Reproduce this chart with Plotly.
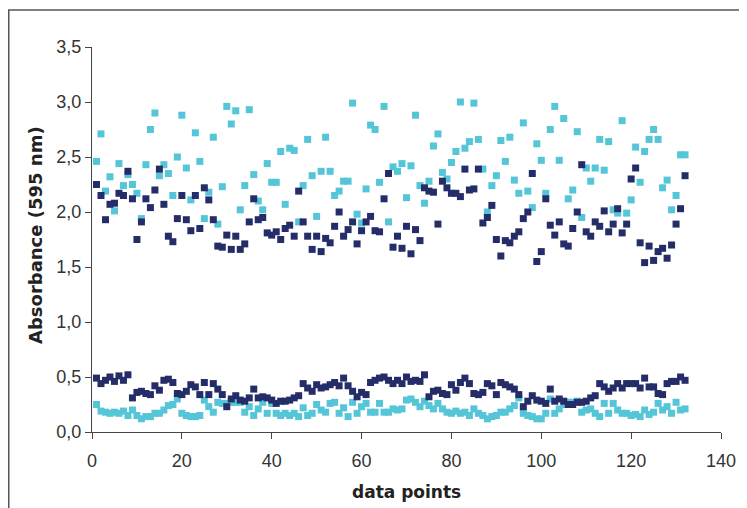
import plotly.graph_objects as go

x_points = list(range(1, 133))

upper_dark = [2.25, 2.15, 1.93, 2.07, 2.08, 2.17, 2.15, 2.37, 2.12, 1.75,
              1.91, 2.12, 2.04, 2.20, 2.39, 2.07, 1.78, 1.73, 1.94, 2.15,
              1.93, 1.83, 2.15, 1.85, 2.22, 2.11, 1.93, 1.69, 1.68, 1.79,
              1.66, 1.78, 1.66, 1.71, 1.91, 2.12, 1.93, 1.95, 1.81, 1.79,
              1.82, 1.75, 1.85, 1.88, 1.78, 2.19, 1.91, 1.78, 1.66, 1.78,
              1.64, 1.76, 1.72, 1.87, 2.00, 1.78, 1.84, 1.91, 1.71, 1.83,
              1.91, 1.96, 1.83, 1.82, 2.12, 2.35, 1.68, 1.78, 1.67, 1.87,
              1.62, 1.84, 1.74, 2.22, 2.19, 2.18, 1.89, 2.28, 2.22, 2.17,
              2.17, 2.14, 2.39, 2.20, 2.21, 2.39, 1.90, 1.95, 2.06, 1.75,
              1.60, 1.74, 1.72, 1.78, 1.82, 1.94, 2.00, 2.35, 1.55, 1.64,
              2.12, 1.88, 1.79, 1.91, 1.71, 1.69, 1.85, 2.00, 2.43, 1.82,
              1.78, 1.91, 1.87, 2.01, 1.82, 1.89, 2.03, 1.81, 1.89, 2.30,
              2.40, 1.72, 1.54, 1.69, 1.56, 1.64, 1.67, 1.58, 1.70, 1.89,
              2.03, 2.33]

upper_cyan = [2.46, 2.71, 2.19, 2.32, 2.01, 2.44, 2.24, 2.34, 2.25, 2.17,
              1.94, 2.43, 2.75, 2.90, 2.33, 2.43, 2.35, 2.15, 2.50, 2.88,
              2.40, 2.11, 2.72, 2.46, 1.94, 2.18, 2.68, 1.89, 2.23, 2.96,
              2.80, 2.92, 2.02, 2.24, 2.93, 2.34, 2.10, 2.02, 2.44, 2.27,
              2.27, 2.55, 2.07, 2.58, 2.56, 1.91, 2.24, 2.66, 2.33, 1.96,
              2.37, 2.68, 2.37, 2.15, 2.19, 2.28, 2.28, 2.99, 1.98, 1.90,
              2.21, 2.79, 2.75, 2.27, 2.96, 1.91, 2.41, 2.37, 2.44, 2.13,
              2.42, 2.88, 2.24, 2.08, 2.28, 2.60, 2.71, 2.36, 2.30, 2.45,
              2.55, 3.00, 2.58, 2.64, 2.99, 2.66, 2.39, 2.00, 2.24, 2.33,
              2.65, 2.46, 2.68, 2.29, 2.17, 2.81, 2.19, 2.04, 2.62, 2.47,
              2.17, 2.75, 2.96, 2.47, 2.85, 2.12, 2.20, 2.73, 1.95, 2.40,
              2.28, 2.40, 2.66, 2.38, 2.64, 2.02, 1.99, 2.83, 1.99, 2.11,
              2.59, 2.27, 2.55, 2.66, 2.75, 2.66, 2.22, 2.29, 2.02, 2.15,
              2.52, 2.52]

lower_dark = [0.49, 0.44, 0.47, 0.50, 0.46, 0.51, 0.47, 0.52, 0.31, 0.36,
              0.37, 0.35, 0.34, 0.42, 0.38, 0.47, 0.48, 0.45, 0.35, 0.34,
              0.37, 0.43, 0.41, 0.34, 0.45, 0.34, 0.44, 0.39, 0.34, 0.23,
              0.30, 0.33, 0.29, 0.28, 0.31, 0.39, 0.31, 0.32, 0.31, 0.29,
              0.26, 0.28, 0.28, 0.29, 0.31, 0.33, 0.44, 0.40, 0.37, 0.43,
              0.40, 0.41, 0.43, 0.45, 0.42, 0.49, 0.42, 0.37, 0.32, 0.36,
              0.34, 0.45, 0.47, 0.49, 0.50, 0.47, 0.44, 0.47, 0.44, 0.50,
              0.46, 0.47, 0.46, 0.52, 0.32, 0.37, 0.38, 0.35, 0.34, 0.43,
              0.38, 0.45, 0.49, 0.44, 0.35, 0.34, 0.36, 0.44, 0.42, 0.34,
              0.45, 0.43, 0.41, 0.39, 0.34, 0.23, 0.28, 0.33, 0.29, 0.28,
              0.26, 0.39, 0.28, 0.30, 0.28, 0.25, 0.25, 0.27, 0.27, 0.28,
              0.31, 0.33, 0.44, 0.41, 0.37, 0.40, 0.44, 0.40, 0.44, 0.44,
              0.44, 0.40, 0.49, 0.41, 0.41, 0.35, 0.34, 0.44, 0.46, 0.46,
              0.50, 0.47]

lower_cyan = [0.25, 0.19, 0.18, 0.17, 0.18, 0.17, 0.19, 0.15, 0.20, 0.15,
              0.12, 0.14, 0.14, 0.17, 0.17, 0.20, 0.24, 0.25, 0.30, 0.17,
              0.15, 0.14, 0.14, 0.15, 0.29, 0.23, 0.18, 0.27, 0.26, 0.26,
              0.27, 0.27, 0.27, 0.18, 0.23, 0.15, 0.21, 0.27, 0.17, 0.26,
              0.17, 0.15, 0.17, 0.15, 0.17, 0.14, 0.22, 0.15, 0.17, 0.25,
              0.20, 0.18, 0.26, 0.27, 0.17, 0.22, 0.14, 0.27, 0.17, 0.23,
              0.26, 0.18, 0.18, 0.26, 0.18, 0.18, 0.21, 0.20, 0.21, 0.29,
              0.30, 0.27, 0.23, 0.28, 0.24, 0.21, 0.26, 0.21, 0.18, 0.17,
              0.19, 0.17, 0.18, 0.15, 0.21, 0.17, 0.15, 0.12, 0.14, 0.15,
              0.18, 0.18, 0.21, 0.24, 0.31, 0.17, 0.15, 0.14, 0.12, 0.12,
              0.17, 0.30, 0.17, 0.21, 0.25, 0.27, 0.27, 0.28, 0.18, 0.20,
              0.21, 0.17, 0.14, 0.26, 0.17, 0.26, 0.20, 0.17, 0.17, 0.15,
              0.16, 0.14, 0.20, 0.16, 0.18, 0.26, 0.20, 0.23, 0.17, 0.27,
              0.20, 0.21]

x_ticks = [0, 20, 40, 60, 80, 100, 120, 140]
y_ticks = [0.0, 0.5, 1.0, 1.5, 2.0, 2.5, 3.0, 3.5]

DARK = "#252D69"
CYAN = "#55C5D8"

fig = go.Figure()
for ys, col in [(lower_cyan, CYAN), (upper_cyan, CYAN), (lower_dark, DARK), (upper_dark, DARK)]:
    fig.add_trace(go.Scatter(
        x=x_points, y=ys, mode="markers",
        marker=dict(symbol="square", size=7, color=col, line=dict(width=0)),
        showlegend=False, hoverinfo="x+y"))

tick_font = dict(family="Liberation Sans, Arial, sans-serif", size=18, color="#333333")
title_font = "DejaVu Sans, sans-serif"

# page body adds an 8px offset; layout is computed in figure coordinates
OFF = 8
W, H = 747 - OFF, 508 - OFF
L, R, T, B = 92 - OFF, 26, 47 - OFF, H - (432 - OFF)
pw, ph = W - L - R, H - T - B

fig.update_layout(
    width=W, height=H,
    margin=dict(l=L, r=R, t=T, b=B),
    paper_bgcolor="white", plot_bgcolor="white",
    separators=", ",
    xaxis=dict(range=[0, 140], tickvals=x_ticks, showgrid=False, zeroline=False,
               showline=True, linecolor="#444444", linewidth=1, automargin=False,
               ticks="outside", ticklen=6, tickcolor="#444444", tickfont=tick_font,
               ticklabelstandoff=6),
    yaxis=dict(range=[0, 3.5], tickvals=y_ticks, tickformat=".1f", showgrid=False, zeroline=False,
               showline=True, linecolor="#444444", linewidth=1, automargin=False,
               ticks="outside", ticklen=6, tickcolor="#444444", tickfont=tick_font),
    annotations=[
        dict(text="<b>data points</b>", xref="paper", yref="paper",
             x=0.5, y=-((492 - OFF) - (T + ph)) / ph, xanchor="center", yanchor="middle",
             showarrow=False, font=dict(family=title_font, size=17, color="#222222")),
        dict(text="<b>Absorbance (595 nm)</b>", xref="paper", yref="paper",
             x=((35 - OFF) - L) / pw, y=((T + ph) - (235 - OFF)) / ph,
             xanchor="center", yanchor="middle",
             textangle=-90, showarrow=False,
             font=dict(family=title_font, size=18, color="#222222")),
    ],
    shapes=[dict(type="rect", xref="paper", yref="paper",
                 x0=(0.75 - L) / pw, x1=(W + 20 - L) / pw,
                 y0=-(H + 20 - (T + ph)) / ph, y1=1 + (T - 2) / ph,
                 line=dict(color="#555555", width=1.5), fillcolor="rgba(0,0,0,0)", layer="below")],
)

fig.write_html("out.html")
